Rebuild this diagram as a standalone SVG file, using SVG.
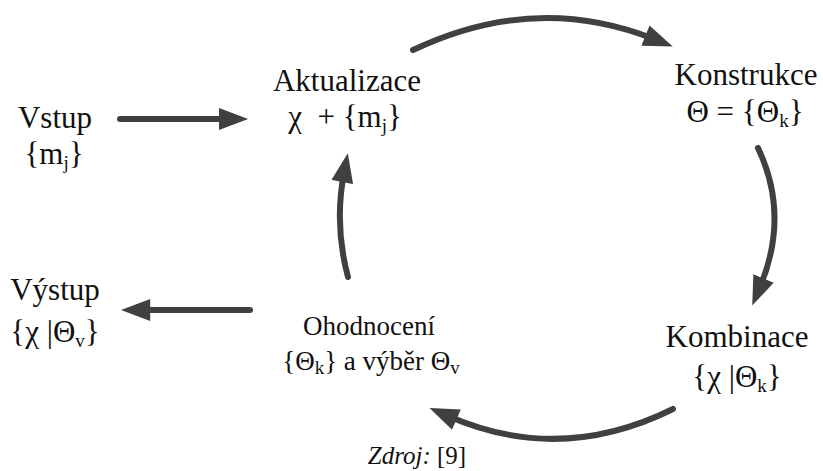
<svg xmlns="http://www.w3.org/2000/svg" width="823" height="471" viewBox="0 0 823 471" font-family="'Liberation Serif', 'DejaVu Serif', serif">
<style>
text{font-family:'Liberation Serif','DejaVu Serif',serif;fill:#111;text-anchor:middle}
.big{font-size:31px}
.mid{font-size:27px}
.sub{font-size:19px}
.conn path{fill:none;stroke:#404040;stroke-width:6;stroke-linecap:round}
</style>
<defs>
<marker id="ah" markerUnits="userSpaceOnUse" viewBox="0 0 32 24" markerWidth="30" markerHeight="22" refX="10" refY="12" orient="auto">
<path d="M0,0 L32,12 L0,24 z" fill="#404040"/>
</marker>
</defs>
<g class="conn" id="connectors">
<path d="M120,119 L228,119" marker-end="url(#ah)"/>
<path d="M250,310 L141,310" marker-end="url(#ah)"/>
<path d="M413,50 Q535,-8 654,39" marker-end="url(#ah)"/>
<path d="M758,148 Q790,215 760,287" marker-end="url(#ah)"/>
<path d="M673,409 Q560,465 448,416" marker-end="url(#ah)"/>
<path d="M348,277 Q334,225 344,173" marker-end="url(#ah)"/>
</g>
<g id="vstup">
<text class="big" x="55" y="128">Vstup</text>
<text class="big" x="54" y="164">{m<tspan class="sub" dy="5">j</tspan><tspan dy="-5">}</tspan></text>
</g>
<g id="aktualizace">
<text class="big" x="347" y="91">Aktualizace</text>
<text class="big" x="345" y="127" xml:space="preserve">χ  + {m<tspan class="sub" dy="5">j</tspan><tspan dy="-5">}</tspan></text>
</g>
<g id="konstrukce">
<text class="big" x="746" y="85">Konstrukce</text>
<text class="big" x="745" y="122">Θ = {Θ<tspan class="sub" dy="5">k</tspan><tspan dy="-5">}</tspan></text>
</g>
<g id="kombinace">
<text class="big" x="737" y="347">Kombinace</text>
<text class="big" x="737" y="387">{χ |Θ<tspan class="sub" dy="5">k</tspan><tspan dy="-5">}</tspan></text>
</g>
<g id="ohodnoceni">
<text class="mid" x="369" y="335">Ohodnocení</text>
<text class="mid" x="371" y="370">{Θ<tspan class="sub" font-size="17" dy="4">k</tspan><tspan dy="-4">} a výběr Θ</tspan><tspan class="sub" font-size="17" dy="4">v</tspan></text>
</g>
<g id="vystup">
<text class="big" x="55" y="300">Výstup</text>
<text class="big" x="55" y="342">{χ |Θ<tspan class="sub" dy="5">v</tspan><tspan dy="-5">}</tspan></text>
</g>
<g id="zdroj">
<text x="417" y="464" font-size="25"><tspan font-style="italic">Zdroj:</tspan> [9]</text>
</g>
</svg>
